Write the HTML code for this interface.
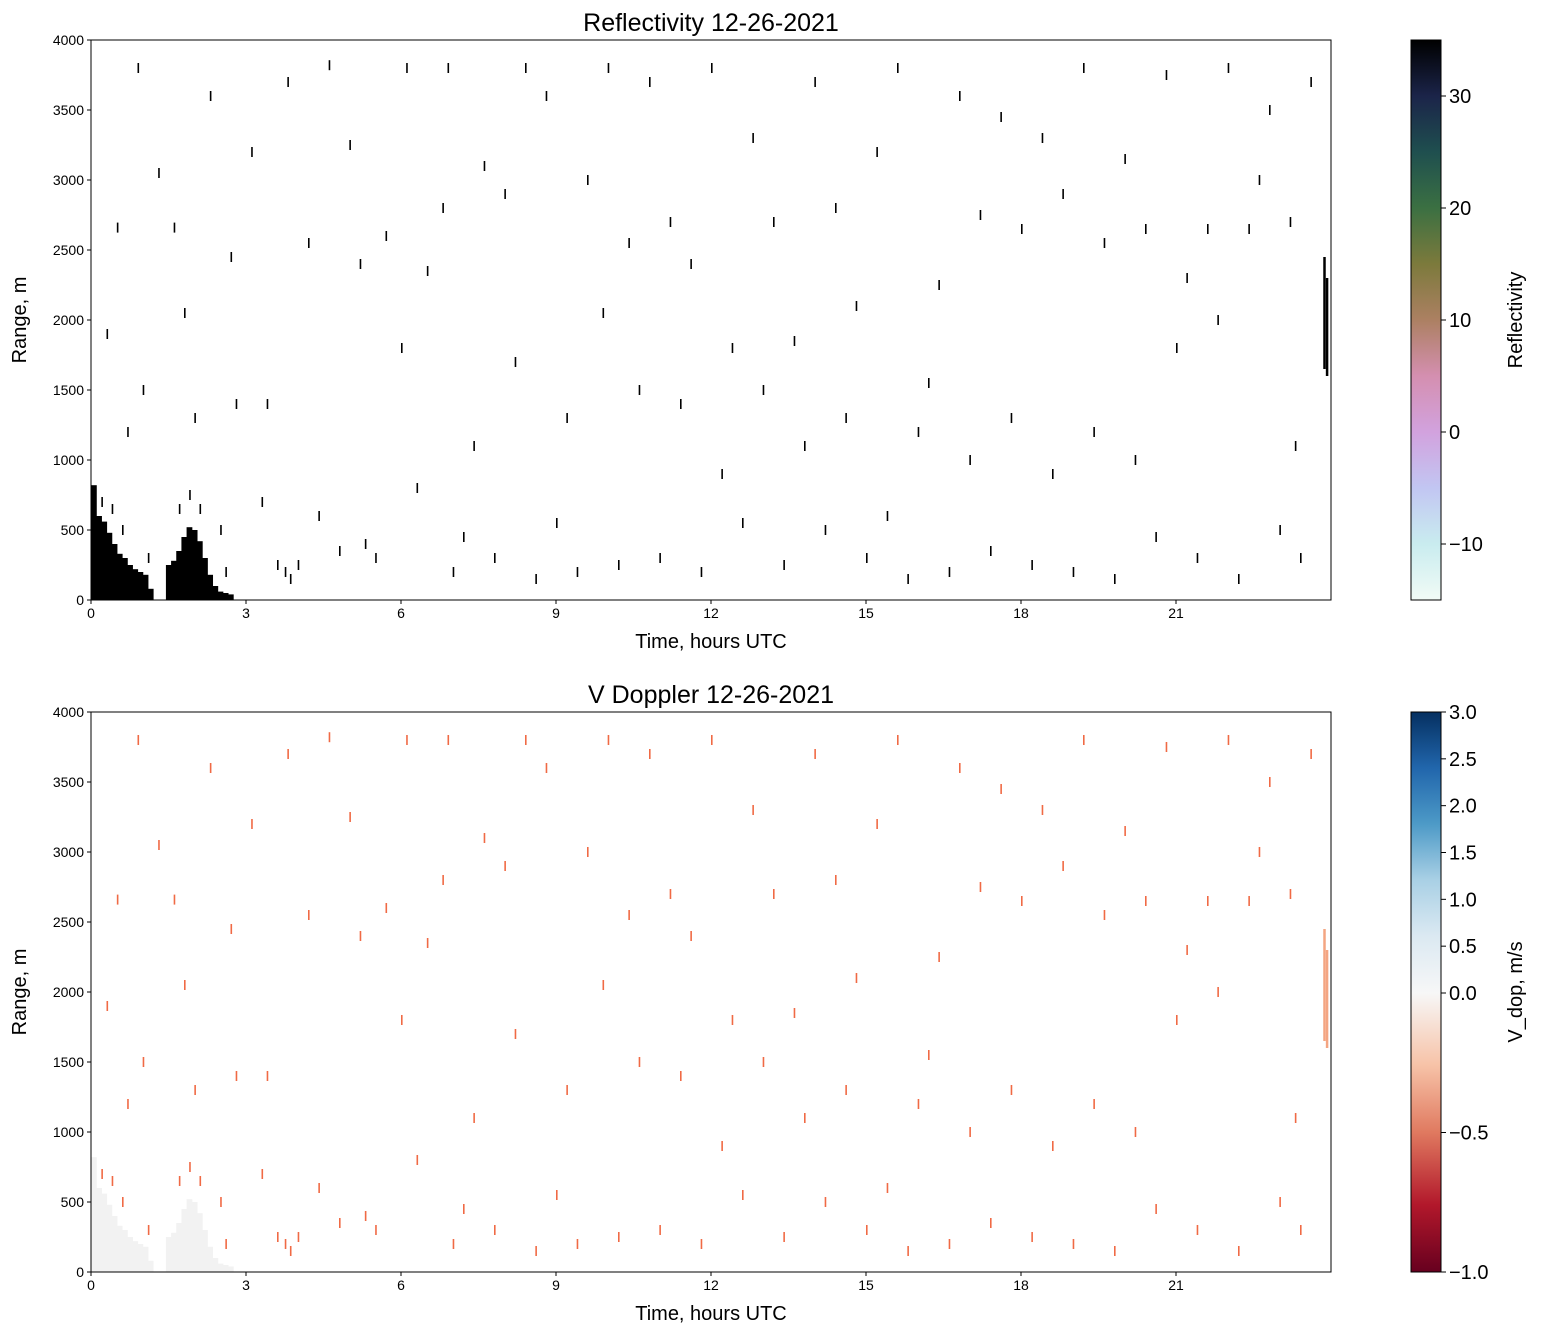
<!DOCTYPE html>
<html><head><meta charset="utf-8">
<style>
body{margin:0;background:#fff;font-family:"Liberation Sans",sans-serif;}
svg text{font-family:"Liberation Sans",sans-serif;fill:#000;}
</style></head>
<body>
<svg id="fig" width="1543" height="1335" viewBox="0 0 1543 1335" xmlns="http://www.w3.org/2000/svg">
<defs>
<linearGradient id="gRef" x1="0" y1="1" x2="0" y2="0">
<stop offset="0" stop-color="#f1fbf6"/><stop offset="0.1" stop-color="#c9ecef"/>
<stop offset="0.2" stop-color="#c2c6f2"/><stop offset="0.3" stop-color="#d2a2de"/>
<stop offset="0.4" stop-color="#d48fb0"/><stop offset="0.5" stop-color="#ac8062"/>
<stop offset="0.6" stop-color="#7c7a3c"/><stop offset="0.7" stop-color="#3b7042"/>
<stop offset="0.8" stop-color="#1f4f4f"/><stop offset="0.9" stop-color="#1b2449"/>
<stop offset="1" stop-color="#000000"/>
</linearGradient>
<linearGradient id="gDop" x1="0" y1="1" x2="0" y2="0">
<stop offset="0" stop-color="#67001f"/><stop offset="0.12" stop-color="#b2182b"/>
<stop offset="0.25" stop-color="#e07a60"/><stop offset="0.37" stop-color="#f7c3a8"/>
<stop offset="0.498" stop-color="#f7f7f7"/><stop offset="0.6" stop-color="#dbe9f2"/>
<stop offset="0.7" stop-color="#a9d0e5"/><stop offset="0.8" stop-color="#4d9ac7"/>
<stop offset="0.9" stop-color="#2166ac"/><stop offset="1" stop-color="#053061"/>
</linearGradient>
</defs>
</svg>
<script>
const blob1T=[0,0.1,0.2,0.3,0.4,0.5,0.6,0.7,0.8,0.9,1.0,1.1];
const blob1H=[820,600,560,480,400,330,300,250,220,200,180,80];
const blob2T=[1.45,1.55,1.65,1.75,1.85,1.95,2.05,2.15,2.25,2.35,2.45,2.55,2.65];
const blob2H=[250,280,350,450,520,500,420,300,180,100,60,50,40];
const streakT=[23.85,23.9];
const streakLo=[1650,1600];
const streakHi=[2450,2300];
const speckT=[0.5,0.9,1.3,1.6,2.0,2.3,2.7,3.1,3.4,3.8,4.2,4.6,5.0,5.3,5.7,6.1,6.5,6.9,7.2,7.6,8.0,8.4,8.8,9.2,9.6,10.0,10.4,10.8,11.2,11.6,12.0,12.4,12.8,13.2,13.6,14.0,14.4,14.8,15.2,15.6,16.0,16.4,16.8,17.2,17.6,18.0,18.4,18.8,19.2,19.6,20.0,20.4,20.8,21.2,21.6,22.0,22.4,22.8,23.2,23.6,
0.7,1.1,2.5,3.3,4.0,4.8,5.5,6.3,7.0,7.8,8.6,9.4,10.2,11.0,11.8,12.6,13.4,14.2,15.0,15.8,16.6,17.4,18.2,19.0,19.8,20.6,21.4,22.2,23.0,23.4,
0.3,1.8,3.6,5.2,6.8,8.2,9.9,11.4,13.0,14.6,16.2,17.8,19.4,21.0,22.6,
1.0,2.8,4.4,6.0,7.4,9.0,10.6,12.2,13.8,15.4,17.0,18.6,20.2,21.8,23.3,
0.2,0.4,0.6,1.7,1.9,2.1,2.6,3.75,3.85];
const speckR=[2660,3800,3050,2660,1300,3600,2450,3200,1400,3700,2550,3820,3250,400,2600,3800,2350,3800,450,3100,2900,3800,3600,1300,3000,3800,2550,3700,2700,2400,3800,1800,3300,2700,1850,3700,2800,2100,3200,3800,1200,2250,3600,2750,3450,2650,3300,2900,3800,2550,3150,2650,3750,2300,2650,3800,2650,3500,2700,3700,
1200,300,500,700,250,350,300,800,200,300,150,200,250,300,200,550,250,500,300,150,200,350,250,200,150,450,300,150,500,300,
1900,2050,250,2400,2800,1700,2050,1400,1500,1300,1550,1300,1200,1800,3000,
1500,1400,600,1800,1100,550,1500,900,1100,600,1000,900,1000,2000,1100,
700,650,500,650,750,650,200,200,150];

const svg=document.getElementById('fig');
const NS='http://www.w3.org/2000/svg';
function el(tag,attrs,parent){const e=document.createElementNS(NS,tag);for(const k in attrs)e.setAttribute(k,attrs[k]);(parent||svg).appendChild(e);return e;}
const X0=91,X1=1331;
const xs=t=>X0+(X1-X0)*t/24;

function panel(top,title,kind){
  const Y0=top, Y1=top+560;
  const ys=r=>Y1-(Y1-Y0)*r/4000;
  const g=el('g',{});
  
  
  const blobCol=kind==='ref'?'#000':'#f2f2f2';
  const spCol=kind==='ref'?'#000':'#f06a45';
  const dw=(X1-X0)/240;
  [[blob1T,blob1H],[blob2T,blob2H]].forEach(([T,H],bi)=>{
    T.forEach((t,i)=>{
      const r=el('rect',{x:xs(t),y:ys(H[i]),width:dw+0.6,height:ys(0)-ys(H[i]),fill:blobCol},g);
      
      
    });
  });
  streakT.forEach((t,i)=>{
    const r=el('rect',{x:xs(t),y:ys(streakHi[i]),width:2.5,height:ys(streakLo[i])-ys(streakHi[i]),fill:kind==='ref'?'#000':'#f4a582'},g);
    
    
  });
  speckT.forEach((t,i)=>{
    const r=el('rect',{x:xs(t),y:ys(speckR[i])-5,width:1.6,height:10,fill:spCol},g);
    
    
  });
  const fr=el('rect',{x:X0,y:Y0,width:X1-X0,height:560,fill:'none',stroke:'#000','stroke-width':1},g);
  
  
  for(let h=0;h<=21;h+=3){
    el('line',{x1:xs(h),x2:xs(h),y1:Y1,y2:Y1+4,stroke:'#000'},g);
    const tx=el('text',{x:xs(h),y:Y1+18,'font-size':14,'text-anchor':'middle'},g);tx.textContent=h;
    
    
  }
  for(let r=0;r<=4000;r+=500){
    el('line',{x1:X0-4,x2:X0,y1:ys(r),y2:ys(r),stroke:'#000'},g);
    const tx=el('text',{x:X0-7,y:ys(r)+5,'font-size':14,'text-anchor':'end'},g);tx.textContent=r;
    
    
  }
  const tt=el('text',{x:(X0+X1)/2,y:Y0-9,'font-size':25,'text-anchor':'middle'},g);tt.textContent=title;
  
  
  const xl=el('text',{x:(X0+X1)/2,y:Y1+48,'font-size':20,'text-anchor':'middle'},g);xl.textContent='Time, hours UTC';
  
  
  const yl=el('text',{x:26,y:(Y0+Y1)/2,'font-size':20,'text-anchor':'middle',transform:`rotate(-90 26 ${(Y0+Y1)/2})`},g);yl.textContent='Range, m';
  
  
  const cb=el('rect',{x:1411,y:Y0,width:30,height:560,fill:kind==='ref'?'url(#gRef)':'url(#gDop)',stroke:'#000','stroke-width':1},g);
  
  
  let ticks,pos,label;
  if(kind==='ref'){ticks=[-10,0,10,20,30];pos=v=>Y1-560*(v+15)/50;label='Reflectivity';}
  else{ticks=[-1,-0.5,0,0.5,1,1.5,2,2.5,3];pos=v=>v>=0?(Y0+281)-281*v/3:(Y0+281)+279*(-v);label='V_dop, m/s';}
  ticks.forEach(v=>{
    el('line',{x1:1441,x2:1446,y1:pos(v),y2:pos(v),stroke:'#000'},g);
    const s=(kind==='ref'?String(v):v.toFixed(1)).replace('-','\u2212');
    const tx=el('text',{x:1449,y:pos(v)+7,'font-size':20},g);tx.textContent=s;
    
    
  });
  const cl=el('text',{x:1522,y:(Y0+Y1)/2,'font-size':20,'text-anchor':'middle',transform:`rotate(-90 1522 ${(Y0+Y1)/2})`},g);cl.textContent=label;
  
  
}
panel(40,'Reflectivity 12-26-2021','ref');
panel(712,'V Doppler 12-26-2021','dop');
</script>
</body></html>
